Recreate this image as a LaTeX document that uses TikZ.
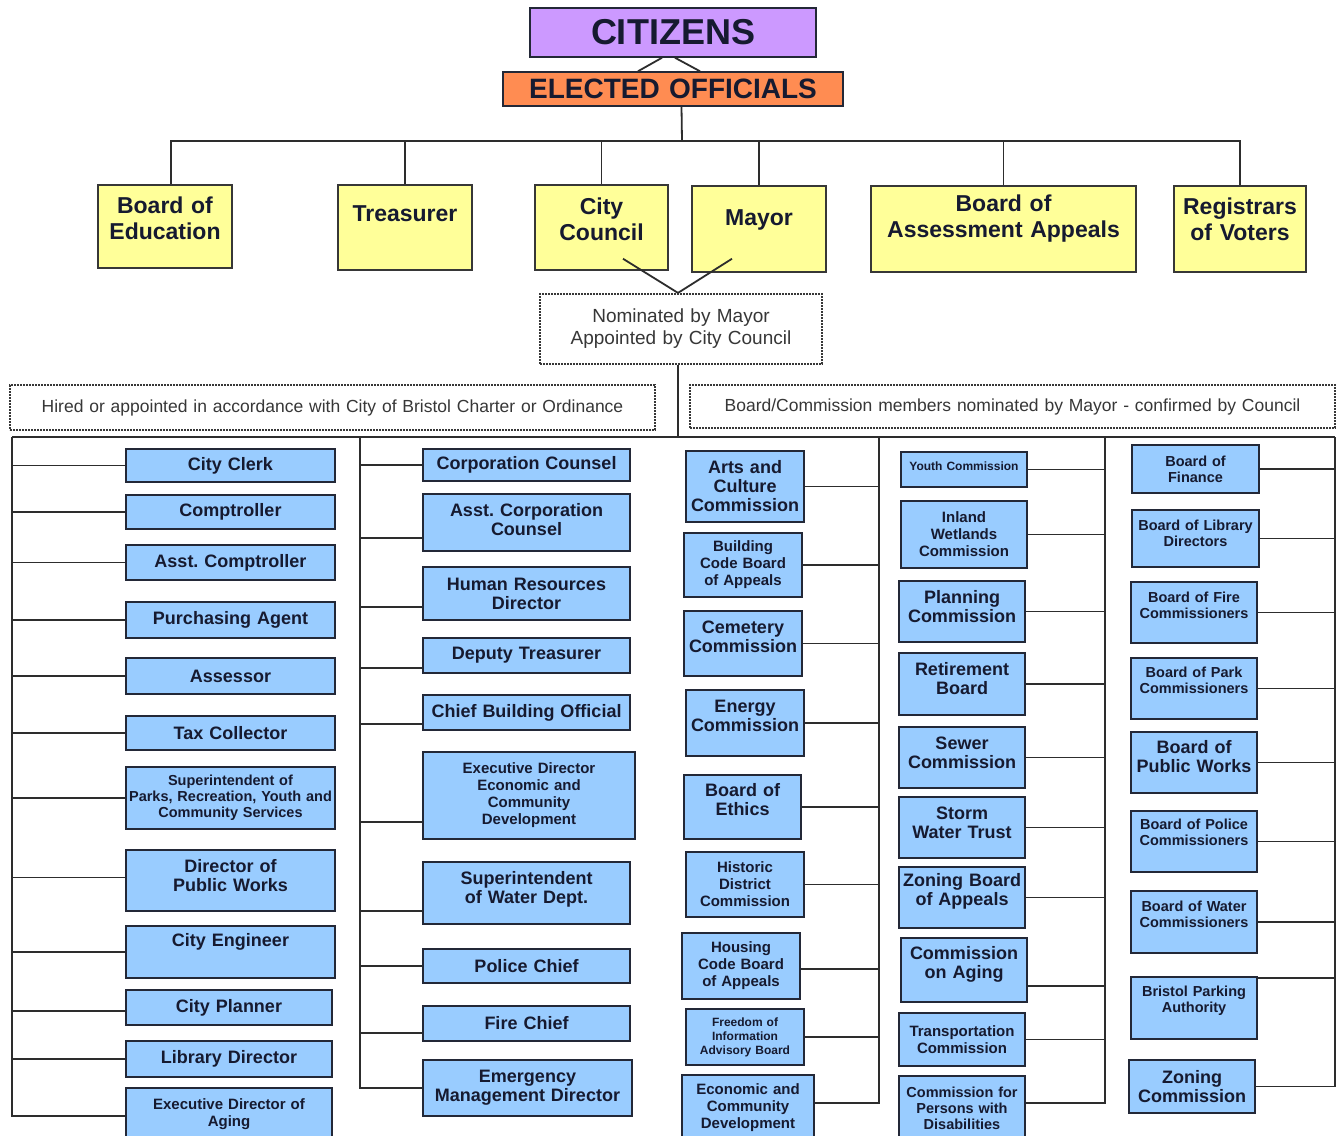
\documentclass[tikz,border=0pt]{standalone}
\usepackage{fontspec}
\setmainfont{Liberation Sans}
\usepackage{tikz}
\usetikzlibrary{positioning, calc}
\definecolor{citizencolor}{RGB}{204,153,255}
\definecolor{electedcolor}{RGB}{255,140,82}
\definecolor{officecolor}{RGB}{255,255,153}
\definecolor{staffcolor}{RGB}{153,204,255}
\definecolor{edgecolor}{RGB}{35,40,55}
\definecolor{inkcolor}{RGB}{22,26,48}
\definecolor{notecolor}{RGB}{55,55,55}
\definecolor{linkcolor}{RGB}{45,45,45}
\tikzstyle{head} = [rectangle, draw=edgecolor, line width=1.5pt, text=inkcolor, align=center, inner sep=0pt]
\tikzstyle{office} = [rectangle, draw=notecolor, fill=officecolor, line width=1.5pt, text=inkcolor, align=center, inner sep=0pt, font=\bfseries\fontsize{23}{26}\selectfont]
\tikzstyle{staff} = [rectangle, draw=edgecolor, fill=staffcolor, line width=2pt, text=inkcolor, align=center, inner sep=0pt, font=\bfseries\fontsize{18}{19}\selectfont]
\tikzstyle{note} = [rectangle, draw=notecolor, line width=2.2pt, dash pattern=on 1.8pt off 1.2pt, text=notecolor, align=center, inner sep=0pt, font=\fontsize{17.5}{20}\selectfont]
\tikzstyle{link} = [line width=1.8pt, draw=linkcolor]
\tikzset{
  sz/.style 2 args={text width=#1pt, minimum height=#2pt},
  lift/.style={execute at end node={\par\nointerlineskip\vbox to #1pt{\vfil}}},
  fmid/.style={font=\bfseries\fontsize{15}{17}\selectfont},
  fsmall/.style={font=\bfseries\fontsize{14.5}{16}\selectfont},
  ftiny/.style={font=\bfseries\fontsize{12}{14}\selectfont}
}

\begin{document}
\begin{tikzpicture}[x=1pt, y=1pt]
    \path[fill=white, use as bounding box] (0,0) rectangle (1338,-1135);
    \clip (0,0) rectangle (1338,-1135);

    % Citizens and elected officials
    \node[head, fill=citizencolor, sz={286}{49}, font=\bfseries\fontsize{36}{40}\selectfont] (citizens) at (673,-32.5) {CITIZENS};
    \node[head, fill=electedcolor, sz={340}{34}, font=\bfseries\fontsize{28}{30}\selectfont] (elected) at (673,-89) {ELECTED OFFICIALS};

    \node[office, sz={134}{83}, lift=16] (boardedu) at (165,-226.5) {Board of\\Education};
    \node[office, sz={134}{85}, lift=28] (treasurer) at (405,-227.5) {Treasurer};
    \node[office, sz={133}{85}, lift=16] (council) at (601.5,-227.5) {City\\Council};
    \node[office, sz={134}{86}, lift=18] (mayor) at (759,-229) {Mayor};
    \node[office, sz={265}{86}, lift=20] (assessappeals) at (1003.5,-229) {Board of\\Assessment Appeals};
    \node[office, sz={132}{86}, lift=20] (registrars) at (1240,-229) {Registrars\\of Voters};

    \coordinate (topbus) at (682,-141);
    \draw[link] ([xshift=-11pt]citizens.south) -- ([xshift=-35pt]elected.north);
    \draw[link] ([xshift=2pt]citizens.south) -- ([xshift=27pt]elected.north);
    \draw[link] ([xshift=8.5pt]elected.south) -- (topbus);
    \draw[link] ([xshift=6pt]boardedu.north) |- (topbus) -| (registrars.north);
    \draw[link] (treasurer.north) -- (treasurer.north |- topbus);
    \draw[link] (council.north) -- (council.north |- topbus);
    \draw[link] (mayor.north) -- (mayor.north |- topbus);
    \draw[link] (assessappeals.north) -- (assessappeals.north |- topbus);

    % Nominations
    \node[note, sz={282}{70}, font=\fontsize{19}{22}\selectfont] (nominated) at (681,-329) {Nominated by Mayor\\Appointed by City Council};
    \draw[link] ([xshift=21.5pt, yshift=12pt]council.south) -- ([xshift=-3pt]nominated.north);
    \draw[link] ([xshift=-27pt, yshift=14pt]mayor.south) -- ([xshift=-3pt]nominated.north);

    \node[note, sz={645}{45}] (hired) at (332.5,-407.5) {Hired or appointed in accordance with City of Bristol Charter or Ordinance};
    \node[note, sz={645}{43}] (boardcomm) at (1012.5,-406.5) {Board/Commission members nominated by Mayor - confirmed by Council};

    \coordinate (stemA) at (12,-437);
    \coordinate (stemB) at (360,-437);
    \coordinate (stemC) at (879,-437);
    \coordinate (stemD) at (1105,-437);
    \coordinate (stemE) at (1335,-437);
    \draw[link] ([xshift=-3pt]nominated.south) -- ([xshift=-3pt]nominated.south |- stemA);
    \draw[link] (stemA) -- (stemE);

    % Hired staff, first column
    \node[staff, sz={209}{33}] (clerk) at (230.5,-465.5) {City Clerk};
    \node[staff, sz={209}{34}] (comptroller) at (230.5,-512) {Comptroller};
    \node[staff, sz={209}{35}] (asstcomp) at (230.5,-562.5) {Asst.\ Comptroller};
    \node[staff, sz={209}{36}] (purchasing) at (230.5,-620) {Purchasing Agent};
    \node[staff, sz={209}{36}] (assessor) at (230.5,-676) {Assessor};
    \node[staff, sz={209}{34}] (taxcoll) at (230.5,-733) {Tax Collector};
    \node[staff, fsmall, sz={209}{62}] (parksupt) at (230.5,-798) {Superintendent of\\Parks, Recreation, Youth and\\Community Services};
    \node[staff, sz={209}{61}, lift=10] (pubworksdir) at (230.5,-880.5) {Director of\\Public Works};
    \node[staff, sz={209}{52}, lift=20] (engineer) at (230.5,-952) {City Engineer};
    \node[staff, sz={206}{35}] (planner) at (229,-1007.5) {City Planner};
    \node[staff, sz={206}{36}] (librarydir) at (229,-1059) {Library Director};
    \node[staff, fmid, sz={206}{52}] (agingdir) at (229,-1114) {Executive Director of\\Aging};

    \draw[link] (clerk.west) -| (stemA);
    \draw[link] (comptroller.west) -| (stemA);
    \draw[link] (asstcomp.west) -| (stemA);
    \draw[link] (purchasing.west) -| (stemA);
    \draw[link] (assessor.west) -| (stemA);
    \draw[link] (taxcoll.west) -| (stemA);
    \draw[link] (parksupt.west) -| (stemA);
    \draw[link] ([yshift=3pt]pubworksdir.west) -| (stemA);
    \draw[link] (engineer.west) -| (stemA);
    \draw[link] ([yshift=-3.5pt]planner.west) -| (stemA);
    \draw[link] (librarydir.west) -| (stemA);
    \draw[link] ([yshift=-2pt]agingdir.west) -| (stemA);

    % Hired staff, second column
    \node[staff, sz={207}{32}] (corpcounsel) at (526.5,-465) {Corporation Counsel};
    \node[staff, sz={207}{57}, lift=5] (asstcounsel) at (526.5,-522.5) {Asst.\ Corporation\\Counsel};
    \node[staff, sz={207}{53}] (hrdir) at (526.5,-593.5) {Human Resources\\Director};
    \node[staff, sz={207}{35}] (deputytreas) at (526.5,-655.5) {Deputy Treasurer};
    \node[staff, sz={207}{35}] (buildingoff) at (526.5,-712.5) {Chief Building Official};
    \node[staff, fmid, sz={212}{87}] (econdir) at (529,-795.5) {Executive Director\\Economic and\\Community\\Development};
    \node[staff, sz={207}{62}, lift=8] (watersupt) at (526.5,-893) {Superintendent\\of Water Dept.};
    \node[staff, sz={207}{34}] (police) at (526.5,-966) {Police Chief};
    \node[staff, sz={207}{35}] (fire) at (526.5,-1023.5) {Fire Chief};
    \node[staff, sz={209}{56}] (emergency) at (527.5,-1088) {Emergency\\Management Director};

    \draw[link] (corpcounsel.west) -| (stemB);
    \draw[link] ([yshift=-15.5pt]asstcounsel.west) -| (stemB);
    \draw[link] ([yshift=-13.5pt]hrdir.west) -| (stemB);
    \draw[link] ([yshift=-12.5pt]deputytreas.west) -| (stemB);
    \draw[link] ([yshift=-11.5pt]buildingoff.west) -| (stemB);
    \draw[link] ([yshift=-26.5pt]econdir.west) -| (stemB);
    \draw[link] ([yshift=-18pt]watersupt.west) -| (stemB);
    \draw[link] (police.west) -| (stemB);
    \draw[link] ([yshift=-9.5pt]fire.west) -| (stemB);
    \draw[link] (emergency.west) -| (stemB);

    % Boards and commissions, first column
    \node[staff, sz={118}{71}] (arts) at (745,-486.5) {Arts and\\Culture\\Commission};
    \node[staff, fmid, sz={118}{64}] (buildcode) at (743,-565) {Building\\Code Board\\of Appeals};
    \node[staff, sz={118}{65}, lift=14] (cemetery) at (743,-643.5) {Cemetery\\Commission};
    \node[staff, sz={118}{66}, lift=14] (energy) at (745,-723) {Energy\\Commission};
    \node[staff, sz={117}{64}, lift=14] (ethics) at (742.5,-807) {Board of\\Ethics};
    \node[staff, fmid, sz={118}{65}] (historic) at (745,-884.5) {Historic\\District\\Commission};
    \node[staff, fmid, sz={118}{66}] (housing) at (741,-966) {Housing\\Code Board\\of Appeals};
    \node[staff, ftiny, sz={118}{56}] (foia) at (745,-1037) {Freedom of\\Information\\Advisory Board};
    \node[staff, fmid, sz={132}{65}] (econdev) at (748,-1107.5) {Economic and\\Community\\Development};

    \draw[link] (arts.east) -| (stemC);
    \draw[link] (buildcode.east) -| (stemC);
    \draw[link] (cemetery.east) -| (stemC);
    \draw[link] (energy.east) -| (stemC);
    \draw[link] (ethics.east) -| (stemC);
    \draw[link] (historic.east) -| (stemC);
    \draw[link] ([yshift=-3pt]housing.east) -| (stemC);
    \draw[link] (foia.east) -| (stemC);
    \draw[link] ([yshift=4.5pt]econdev.east) -| (stemC);

    % Boards and commissions, second column
    \node[staff, ftiny, sz={126}{35}, lift=7] (youth) at (964,-469.5) {Youth Commission};
    \node[staff, fmid, sz={126}{67}] (wetlands) at (964,-534.5) {Inland\\Wetlands\\Commission};
    \node[staff, sz={126}{61}, lift=10] (planning) at (962,-611.5) {Planning\\Commission};
    \node[staff, sz={126}{62}, lift=10] (retirement) at (962,-684) {Retirement\\Board};
    \node[staff, sz={126}{61}, lift=10] (sewer) at (962,-757.5) {Sewer\\Commission};
    \node[staff, sz={126}{61}, lift=10] (storm) at (962,-827.5) {Storm\\Water Trust};
    \node[staff, sz={126}{61}, lift=12] (zba) at (962,-897.5) {Zoning Board\\of Appeals};
    \node[staff, sz={126}{64}, lift=12] (aging) at (964,-970) {Commission\\on Aging};
    \node[staff, fmid, sz={126}{53}] (transport) at (962,-1039.5) {Transportation\\Commission};
    \node[staff, fsmall, sz={126}{64}] (disabilities) at (962,-1108) {Commission for\\Persons with\\Disabilities};

    \draw[link] (youth.east) -| (stemD);
    \draw[link] (wetlands.east) -| (stemD);
    \draw[link] (planning.east) -| (stemD);
    \draw[link] (retirement.east) -| (stemD);
    \draw[link] (sewer.east) -| (stemD);
    \draw[link] (storm.east) -| (stemD);
    \draw[link] (zba.east) -| (stemD);
    \draw[link] ([yshift=-16pt]aging.east) -| (stemD);
    \draw[link] (transport.east) -| (stemD);
    \draw[link] ([yshift=5pt]disabilities.east) -| (stemD);

    % Boards and commissions, third column
    \node[staff, fsmall, sz={127}{48}] (finance) at (1195.5,-469) {Board of\\Finance};
    \node[staff, fsmall, sz={127}{57}, lift=10] (library) at (1195.5,-538.5) {Board of Library\\Directors};
    \node[staff, fsmall, sz={126}{61}, lift=14] (firecomm) at (1194,-612.5) {Board of Fire\\Commissioners};
    \node[staff, fsmall, sz={126}{61}, lift=16] (parkcomm) at (1194,-688.5) {Board of Park\\Commissioners};
    \node[staff, sz={126}{61}, lift=12] (pubworks) at (1194,-762.5) {Board of\\Public Works};
    \node[staff, fsmall, sz={126}{61}, lift=18] (policecomm) at (1194,-841.5) {Board of Police\\Commissioners};
    \node[staff, fsmall, sz={126}{62}, lift=16] (watercomm) at (1194,-922) {Board of Water\\Commissioners};
    \node[staff, fsmall, sz={126}{62}, lift=15] (parking) at (1194,-1008) {Bristol Parking\\Authority};
    \node[staff, sz={126}{53}] (zoning) at (1192,-1086.5) {Zoning\\Commission};

    \draw[link] (finance.east) -| (stemE);
    \draw[link] (library.east) -| (stemE);
    \draw[link] (firecomm.east) -| (stemE);
    \draw[link] (parkcomm.east) -| (stemE);
    \draw[link] (pubworks.east) -| (stemE);
    \draw[link] (policecomm.east) -| (stemE);
    \draw[link] (watercomm.east) -| (stemE);
    \draw[link] ([yshift=-2pt]parking.north east) -| (stemE);
    \draw[link] (zoning.east) -| (stemE);

\end{tikzpicture}
\end{document}
